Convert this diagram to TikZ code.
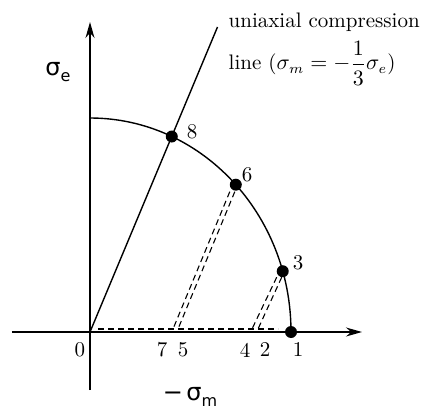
\documentclass[tikz,border=0pt]{standalone}
\usepackage{fontspec}
\newfontfamily\sigfont{DejaVu Sans}
\usetikzlibrary{arrows.meta}
\newcommand{\sigsub}[1]{{\sigfont\fontsize{12}{14}\selectfont σ\raisebox{-0.45ex}{\fontsize{8}{9}\selectfont #1}}}

\begin{document}
\begin{tikzpicture}[x=0.5pt, y=0.5pt, line width=0.7pt, font=\fontsize{10.5}{12}\selectfont,
  dot/.style={circle, fill, inner sep=0pt, minimum size=6pt},
  path/.style={line width=0.55pt, dash pattern=on 3pt off 2pt},
  axis/.style={-{Stealth[length=8pt, width=4.5pt]}}]
  \useasboundingbox (-90,-81) rectangle (333,332);
  % Axes
  \coordinate (O) at (0,0);
  \coordinate (xs) at (-78,0);  \coordinate (xe) at (272,0);
  \coordinate (ys) at (0,-58);  \coordinate (ye) at (0,310);
  \draw[axis] (xs) -- (xe);
  \draw[axis] (ys) -- (ye);
  % Yield surface
  \draw (0,214) arc[start angle=90, end angle=0, x radius=201, y radius=214];
  % Points on the surface
  \node[dot] (p8) at (66:201 and 214) {};
  \node[dot] (p6) at (43.5:201 and 214) {};
  \node[dot] (p3) at (16.5:201 and 214) {};
  \node[dot] (p1) at (0:201 and 214) {};
  % Uniaxial compression line
  \coordinate (uc) at (127.5,305);
  \draw (O) -- (uc);
  % Feet on the axis
  \coordinate (f0) at (8,3);   \coordinate (f1) at (188,3);
  \coordinate (f7) at (83,3);  \coordinate (f5) at (88,3);
  \coordinate (f4) at (162,3); \coordinate (f2) at (168,3);
  % Stress paths
  \draw[path] (f0) -- (f1);
  \draw[path] ([shift={(-3pt,-3.5pt)}]p6.center) -- (f7);
  \draw[path] ([shift={(-0.5pt,-3.5pt)}]p6.center) -- (f5);
  \draw[path] ([shift={(-3pt,-3pt)}]p3.center) -- (f4);
  \draw[path] ([shift={(-0.5pt,-3pt)}]p3.center) -- (f2);
  % Labels
  \node (l0) at (-10,-18) {0};
  \node (l7) at (72,-18) {7};
  \node (l5) at (93,-18) {5};
  \node (l4) at (155,-18) {4};
  \node (l2) at (175,-18) {2};
  \node (l1) at (208,-18) {1};
  \node (l8) at (102,200) {8};
  \node (l6) at (157,157) {6};
  \node (l3) at (208,69) {3};
  \node (se) at (-32,260) {\sigsub{e}};
  \node (sm) at (100,-65) {{\sigfont\fontsize{12}{14}\selectfont −}\,\sigsub{m}};
  \node[anchor=base west, inner sep=0pt] (note1) at (138,304) {uniaxial compression};
  \node[anchor=base west, inner sep=0pt] (note2) at (138,262) {line ($\sigma_m=-\displaystyle\frac{1}{3}\sigma_e$)};
\end{tikzpicture}
\end{document}
